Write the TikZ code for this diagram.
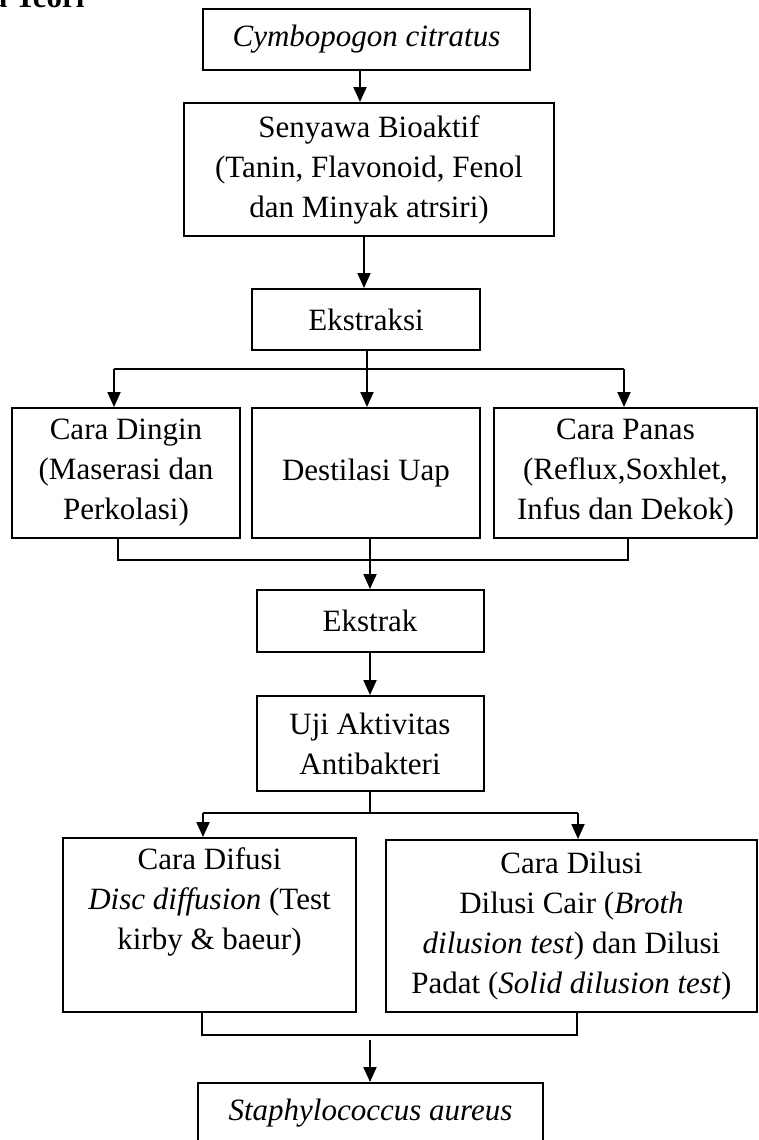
\documentclass[tikz,border=0pt]{standalone}
\usepackage{fontspec}
\setmainfont{Liberation Serif}
\usetikzlibrary{arrows.meta}

\begin{document}
\begin{tikzpicture}[x=1pt,y=-1pt,
  kotak/.style={draw, line width=2pt, align=center, inner sep=0pt, font=\fontsize{31}{40}\selectfont},
  garis/.style={line width=2pt},
  panah/.style={garis, -{Triangle[length=15pt,width=13pt]}}]
\useasboundingbox (0,0) rectangle (758,1140);

\node[anchor=base east, font=\fontsize{31}{40}\selectfont\bfseries] (judul) at (88,8) {a Teori};

\node[kotak, minimum width=327, minimum height=61] (cymbo) at (366.5,39.5) {\textit{Cymbopogon citratus}};
\node[kotak, minimum width=370, minimum height=133] (seny) at (369,169.5) {Senyawa Bioaktif\\(Tanin, Flavonoid, Fenol\\dan Minyak atrsiri)};
\node[kotak, minimum width=228, minimum height=61] (eks) at (366,319.5) {Ekstraksi};

\node[kotak, minimum width=228, minimum height=130] (dingin) at (126,473) {Cara Dingin\\(Maserasi dan\\Perkolasi)};
\node[kotak, minimum width=228, minimum height=130] (dest) at (366,473) {Destilasi Uap};
\node[kotak, minimum width=263, minimum height=130] (panas) at (625.5,473) {Cara Panas\\(Reflux,Soxhlet,\\Infus dan Dekok)};

\node[kotak, minimum width=227, minimum height=62] (ekstrak) at (370,621) {Ekstrak};
\node[kotak, minimum width=227, minimum height=95] (uji) at (370,743.5) {Uji Aktivitas\\Antibakteri};

\node[kotak, minimum width=293, minimum height=174] (difusi) at (209.5,925) {Cara Difusi\\\textit{Disc diffusion} (Test\\kirby \& baeur)\\\strut};
\node[kotak, minimum width=371, minimum height=172] (dilusi) at (571.5,926) {Cara Dilusi\\Dilusi Cair (\textit{Broth}\\\textit{dilusion test}) dan Dilusi\\Padat (\textit{Solid dilusion test})};

\node[kotak, minimum width=345, minimum height=61] (staph) at (370.5,1113.5) {\textit{Staphylococcus aureus}};

% arah panah tengah atas
\coordinate (x1) at (360,0);
\coordinate (x2) at (364,0);
\draw[panah] (cymbo.south -| x1) -- (seny.north -| x1);
\draw[panah] (seny.south -| x2) -- (eks.north -| x2);

% cabang ekstraksi
\coordinate (c1) at (367,369);
\coordinate (c1l) at (114,369);
\coordinate (c1r) at (624,369);
\draw[garis] (eks.south -| c1) -- (c1);
\draw[garis] (c1l) -- (c1r);
\draw[panah] (c1l) -- (c1l |- dingin.north);
\draw[panah] (c1) -- (c1 |- dest.north);
\draw[panah] (c1r) -- (c1r |- panas.north);

% gabung ke ekstrak
\coordinate (g1l) at (118,560);
\coordinate (g1r) at (628,560);
\draw[garis] (g1l |- dingin.south) -- (g1l) -- (g1r) -- (g1r |- panas.south);
\draw[panah] (dest.south -| ekstrak.north) -- (ekstrak.north);
\draw[panah] (ekstrak) -- (uji);

% cabang uji aktivitas
\coordinate (c2l) at (203,813);
\coordinate (c2r) at (578,813);
\draw[garis] (uji.south) -- (uji.south |- c2l);
\draw[garis] (c2l) -- (c2r);
\draw[panah] (c2l) -- (c2l |- difusi.north);
\draw[panah] (c2r) -- (c2r |- dilusi.north);

% gabung ke staphylococcus
\coordinate (g2l) at (202,1035);
\coordinate (g2r) at (577,1035);
\coordinate (g2) at (370,1040);
\draw[garis] (g2l |- difusi.south) -- (g2l) -- (g2r) -- (g2r |- dilusi.south);
\draw[panah] (g2) -- (g2 |- staph.north);

\end{tikzpicture}
\end{document}
